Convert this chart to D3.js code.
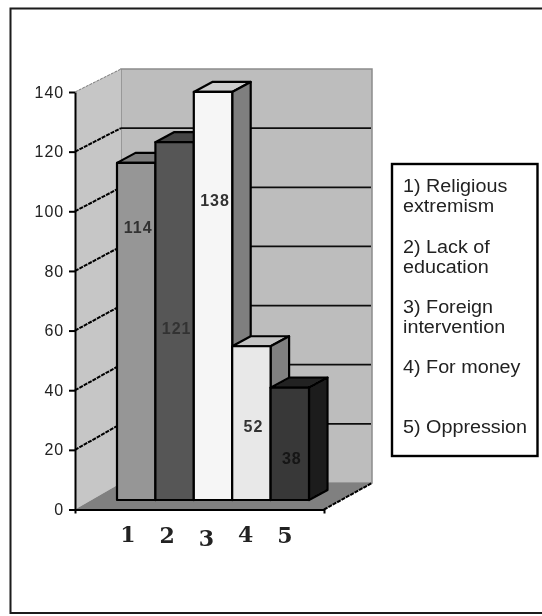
<!DOCTYPE html>
<html>
<head>
<meta charset="utf-8">
<script src="https://cdn.jsdelivr.net/npm/d3@7"></script>
<style>
  html, body { margin: 0; padding: 0; background: #fff; }
  svg { display: block; }
</style>
</head>
<body>
<svg id="chart"></svg>
<script>
// --------------------
//  data
// --------------------
const categories = ["1", "2", "3", "4", "5"];
const values = [114, 121, 138, 52, 38];
const yTicks = [0, 20, 40, 60, 80, 100, 120, 140];
const legendLines = [
    ["1) Religious", "extremism"],
    ["2) Lack of", "education"],
    ["3) Foreign", "intervention"],
    ["4) For money"],
    ["5) Oppression"]
];

// --------------------
//  layout
// --------------------
const width = 542;
const height = 616;
const barFront = ["#969696", "#565656", "#f6f6f6", "#e8e8e8", "#373737"];
const barTop = ["#7d7d7d", "#444444", "#cdcdcd", "#c4c4c4", "#242424"];
const barSide = ["#6c6c6c", "#444444", "#7f7f7f", "#808080", "#1f1f1f"];
const depth = { x: 18.5, y: -10 };
// where each value label sits, as a share of its bar height
const labelRise = [0.81, 0.48, 0.735, 0.48, 0.375];
const legendBaselines = [[192, 212], [253, 273], [313, 333], [373], [433]];

const frontY = d3.scaleLinear().domain([0, 140]).range([509.5, 92]);
const backY = d3.scaleLinear().domain([0, 140]).range([483, 69]);
const barY = d3.scaleLinear().domain([0, 140]).range([500, 86]);
const barX = d3.scaleBand().domain(categories).range([117, 309]);
const labelX = d3.scalePoint().domain(categories).range([128, 285]);
const labelDrop = [0, 1, 4, 0, 1]; // x labels are a bit uneven in the original

const svg = d3.select("#chart")
    .attr("width", width)
    .attr("height", height)
    .attr("viewBox", [0, 0, width, height]);

// original is a slightly soft scan
svg.append("filter").attr("id", "soft")
    .append("feGaussianBlur").attr("stdDeviation", 0.5);

const root = svg.append("g").attr("filter", "url(#soft)");
const poly = pts => pts.map(p => p.join(",")).join(" ");

// page frame, runs off the right edge
root.append("path")
    .attr("d", `M${width + 5},8.5 H10.5 V613 H${width + 5}`)
    .attr("fill", "none").attr("stroke", "#1a1a1a").attr("stroke-width", 2);

// --------------------
//  walls and floor
// --------------------
const frontLeft = 75, frontRight = 324, backLeft = 121, backRight = 372;

root.append("polygon")
    .attr("points", poly([[backLeft, backY(140)], [backRight, backY(140)], [backRight, backY(0)], [backLeft, backY(0)]]))
    .attr("fill", "#bdbdbd").attr("stroke", "#8c8c8c").attr("stroke-width", 1.5);
root.append("polygon")
    .attr("points", poly([[frontLeft, frontY(140)], [backLeft, backY(140)], [backLeft, backY(0)], [frontLeft, frontY(0)]]))
    .attr("fill", "#c6c6c6");
root.append("line")
    .attr("x1", frontLeft).attr("y1", frontY(140)).attr("x2", backLeft).attr("y2", backY(140))
    .attr("stroke", "#777").attr("stroke-width", 1).attr("stroke-dasharray", "3 1");
root.append("polygon")
    .attr("points", poly([[frontLeft, frontY(0)], [backLeft, backY(0)], [backRight, backY(0)], [frontRight, frontY(0)]]))
    .attr("fill", "#808080");

// gridlines
const gridTicks = yTicks.filter(d => d > 0 && d < 140);
root.append("g").selectAll("line.back").data(gridTicks).join("line")
    .attr("class", "back")
    .attr("x1", backLeft).attr("x2", backRight - 1)
    .attr("y1", d => backY(d)).attr("y2", d => backY(d))
    .attr("stroke", "#111").attr("stroke-width", 1.8);
root.append("g").selectAll("line.side").data(gridTicks).join("line")
    .attr("class", "side")
    .attr("x1", frontLeft).attr("x2", backLeft)
    .attr("y1", d => frontY(d)).attr("y2", d => backY(d))
    .attr("stroke", "#000").attr("stroke-width", 2).attr("stroke-dasharray", "4 1");

// floor edge on the right
root.append("line")
    .attr("x1", frontRight).attr("y1", frontY(0)).attr("x2", backRight).attr("y2", backY(0))
    .attr("stroke", "#000").attr("stroke-width", 2).attr("stroke-dasharray", "4 1");

// --------------------
//  bars
// --------------------
const bars = root.append("g").selectAll("g")
    .data(values)
    .join("g")
    .attr("stroke", "#000")
    .attr("stroke-width", 2.2)
    .attr("stroke-linejoin", "round");

bars.each(function(d, i) {
    const g = d3.select(this);
    const x0 = barX(categories[i]);
    const x1 = x0 + barX.bandwidth();
    const y0 = barY(0);
    const y1 = barY(d);
    g.append("polygon") // top
        .attr("fill", barTop[i])
        .attr("points", poly([[x0, y1], [x0 + depth.x, y1 + depth.y], [x1 + depth.x, y1 + depth.y], [x1, y1]]));
    g.append("polygon") // side
        .attr("fill", barSide[i])
        .attr("points", poly([[x1, y1], [x1 + depth.x, y1 + depth.y], [x1 + depth.x, y0 + depth.y], [x1, y0]]));
    g.append("rect") // front
        .attr("fill", barFront[i])
        .attr("x", x0).attr("y", y1)
        .attr("width", x1 - x0).attr("height", y0 - y1);
});

// value labels
root.append("g").selectAll("text").data(values).join("text")
    .attr("x", (d, i) => barX(categories[i]) + barX.bandwidth() / 2 + 2)
    .attr("y", (d, i) => barY(d * labelRise[i]) + 6)
    .attr("text-anchor", "middle")
    .attr("font-family", "Liberation Sans")
    .attr("font-size", 16)
    .attr("font-weight", "bold")
    .attr("letter-spacing", 1)
    .attr("fill", (d, i) => i === 4 ? "#151515" : "#333")
    .text(d => d);

// --------------------
//  axes
// --------------------
const yAxis = root.append("g")
    .attr("transform", `translate(${frontLeft},0)`)
    .call(d3.axisLeft(frontY).tickValues(yTicks).tickSize(6).tickSizeOuter(0).tickPadding(5));
yAxis.select(".domain").attr("stroke", "#000").attr("stroke-width", 2);
yAxis.selectAll(".tick line").attr("stroke", "#000").attr("stroke-width", 2);
yAxis.selectAll("text")
    .attr("font-family", "Liberation Sans")
    .attr("font-size", 16)
    .attr("letter-spacing", 0.9)
    .attr("fill", "#222");

const xScale = d3.scaleLinear().domain([0, 1]).range([frontLeft, frontRight]);
const xAxis = root.append("g")
    .attr("transform", `translate(0,${frontY(0)})`)
    .call(d3.axisBottom(xScale).tickValues([0, 1]).tickSize(4).tickSizeOuter(0).tickFormat(""));
xAxis.select(".domain").attr("stroke", "#000").attr("stroke-width", 2);
xAxis.selectAll(".tick line").attr("stroke", "#000").attr("stroke-width", 2);

root.append("g").selectAll("text").data(categories).join("text")
    .attr("x", d => labelX(d))
    .attr("y", (d, i) => 542 + labelDrop[i])
    .attr("text-anchor", "middle")
    .attr("font-family", "DejaVu Serif")
    .attr("font-size", 22)
    .attr("font-weight", "bold")
    .attr("fill", "#222")
    .text(d => d);

// --------------------
//  legend
// --------------------
root.append("rect")
    .attr("x", 392).attr("y", 164).attr("width", 145.5).attr("height", 292)
    .attr("fill", "#fff").attr("stroke", "#000").attr("stroke-width", 2.4);

// legend text is stretched sideways in the original
root.append("g").selectAll("text")
    .data(legendLines.flatMap((lines, i) => lines.map((t, j) => ({ t, y: legendBaselines[i][j] }))))
    .join("text")
    .attr("transform", d => `translate(403,${d.y}) scale(1.13,1)`)
    .attr("font-family", "Liberation Sans")
    .attr("font-size", 17.5)
    .attr("fill", "#222")
    .text(d => d.t);
</script>
</body>
</html>
